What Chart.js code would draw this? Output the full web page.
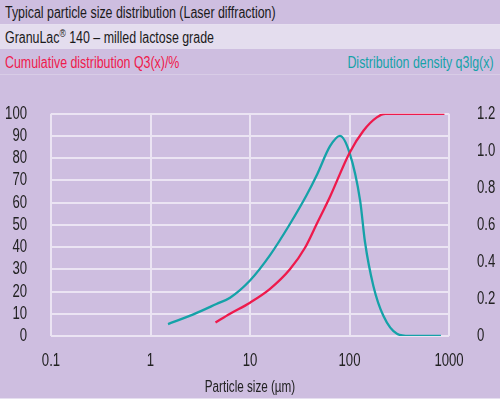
<!DOCTYPE html>
<html>
<head>
<meta charset="utf-8">
<script src="https://cdn.jsdelivr.net/npm/chart.js@4.4.1/dist/chart.umd.min.js"></script>
<style>
    body { margin: 0; width: 500px; height: 399px; overflow: hidden; background: #cebee0;
           font-family: "Liberation Sans", Arial, sans-serif; position: relative; }
    .row { position: absolute; left: 0; width: 500px; height: 24px; line-height: 25px; font-size: 16px; color: #1a1a1a; }
    .row span { position: absolute; white-space: nowrap; transform: scaleX(0.775); transform-origin: left center; }
    .row span.r { transform-origin: right center; }
    #r1 { top: 0; border-bottom: 1px solid #e6dff0; }
    #r2 { top: 25px; background: #e4ddee; }
    #r3 { top: 50px; border-bottom: 1px solid #d8cce6; }
    #wrap { position: absolute; left: 0; top: 75px; width: 500px; height: 324px; }
    #foot { position: absolute; left: 0; top: 398px; width: 500px; height: 1px; background: #e6dff0; }
</style>
</head>
<body>
<div class="row" id="r1"><span style="left:5px">Typical particle size distribution (Laser diffraction)</span></div>
<div class="row" id="r2"><span style="left:5px">GranuLac<sup style="font-size:11px;line-height:0">®</sup> 140 – milled lactose grade</span></div>
<div class="row" id="r3">
    <span style="left:5px;color:#ee1a4c">Cumulative distribution Q3(x)/%</span>
    <span class="r" style="right:6px;color:#15a2a8">Distribution density q3lg(x)</span>
</div>
<div id="wrap"><canvas id="myChart" width="500" height="324"></canvas></div>
<div id="foot"></div>
<script>
document.addEventListener('DOMContentLoaded', function () {
    // particle size (µm) and values
    var cumSizes = [4.5, 6.3, 10, 15.9, 25.2, 35.7, 46.8, 63.7, 100, 138, 188, 230, 900];
    var cumValues = [6.1, 10, 15, 21.2, 30, 39.7, 50.4, 62.7, 82.4, 92.4, 98.4, 100, 100];
    var densSizes = [1.5, 2.7, 4.6, 6.3, 10, 15.9, 25.2, 37, 47.5, 63.7, 80, 100, 128, 143, 174, 219, 300, 400, 830];
    var densValues = [0.064, 0.117, 0.173, 0.207, 0.30, 0.437, 0.605, 0.76, 0.875, 1.025, 1.081, 0.99, 0.73, 0.509, 0.269, 0.109, 0.012, 0, 0];
    var xTicks = [0.1, 1, 10, 100, 1000];
    var xTickLabels = ['0.1', '1', '10', '100', '1000'];
    var rightTickLabels = ['0', '0.2', '0.4', '0.6', '0.8', '1.0', '1.2'];

    var fontFamily = '"Liberation Sans", Arial, sans-serif';
    var gridColor = '#ebe4f3';
    var textColor = '#222222';

    function toPoints(xs, ys) {
        return xs.map(function (x, i) { return { x: x, y: ys[i] }; });
    }

    // the original uses a condensed face, so squeeze canvas text horizontally
    var condense = {
        id: 'condense',
        beforeDraw: function (chart) {
            var c = chart.ctx;
            if (c._origFill) return;
            c._origFill = c.fillText;
            c.fillText = function (t, x, y, mw) {
                var w = this.measureText(t).width * 0.73;
                if (mw !== undefined && mw < w) w = mw;
                return c._origFill.call(this, t, x, y, w);
            };
        }
    };

    var ctx = document.getElementById('myChart').getContext('2d');
    new Chart(ctx, {
        type: 'line',
        data: {
            datasets: [{
                label: 'Cumulative distribution Q3(x)/%',
                data: toPoints(cumSizes, cumValues),
                yAxisID: 'y',
                borderColor: '#ee1a4c',
                borderWidth: 2.3,
                pointRadius: 0,
                cubicInterpolationMode: 'monotone',
                fill: false
            }, {
                label: 'Distribution density q3lg(x)',
                data: toPoints(densSizes, densValues),
                yAxisID: 'y2',
                borderColor: '#15a2a8',
                borderWidth: 2.3,
                pointRadius: 0,
                cubicInterpolationMode: 'monotone',
                fill: false
            }]
        },
        plugins: [condense],
        options: {
            responsive: false,
            animation: false,
            devicePixelRatio: 1,
            layout: { padding: { top: 11, left: 0, right: 0, bottom: 0 } },
            plugins: { legend: { display: false }, tooltip: { enabled: false } },
            scales: {
                x: {
                    type: 'logarithmic',
                    min: 0.1,
                    max: 1000,
                    afterBuildTicks: function (axis) {
                        axis.ticks = xTicks.map(function (v) { return { value: v }; });
                    },
                    afterFit: function (axis) { axis.height = 63; },
                    ticks: {
                        autoSkip: false,
                        maxRotation: 0,
                        padding: 14,
                        color: textColor,
                        font: { family: fontFamily, size: 18 },
                        callback: function (v, i) { return xTickLabels[i]; }
                    },
                    grid: { color: gridColor, lineWidth: 2, drawTicks: false },
                    border: { display: false },
                    title: {
                        display: true,
                        text: 'Particle size (µm)',
                        color: textColor,
                        font: { family: fontFamily, size: 16 },
                        padding: { top: 0, bottom: 2 }
                    }
                },
                y: {
                    position: 'left',
                    min: 0,
                    max: 100,
                    afterFit: function (axis) { axis.width = 51; },
                    ticks: {
                        stepSize: 10,
                        autoSkip: false,
                        padding: 24,
                        color: textColor,
                        font: { family: fontFamily, size: 18 }
                    },
                    grid: { color: gridColor, lineWidth: 2, drawTicks: false },
                    border: { display: false }
                },
                y2: {
                    position: 'right',
                    min: 0,
                    max: 1.2,
                    afterFit: function (axis) { axis.width = 51; },
                    ticks: {
                        stepSize: 0.2,
                        autoSkip: false,
                        padding: 28,
                        color: textColor,
                        font: { family: fontFamily, size: 18 },
                        callback: function (v, i) { return rightTickLabels[i]; }
                    },
                    grid: { display: false, drawTicks: false },
                    border: { display: false }
                }
            }
        }
    });
});
</script>
</body>
</html>
